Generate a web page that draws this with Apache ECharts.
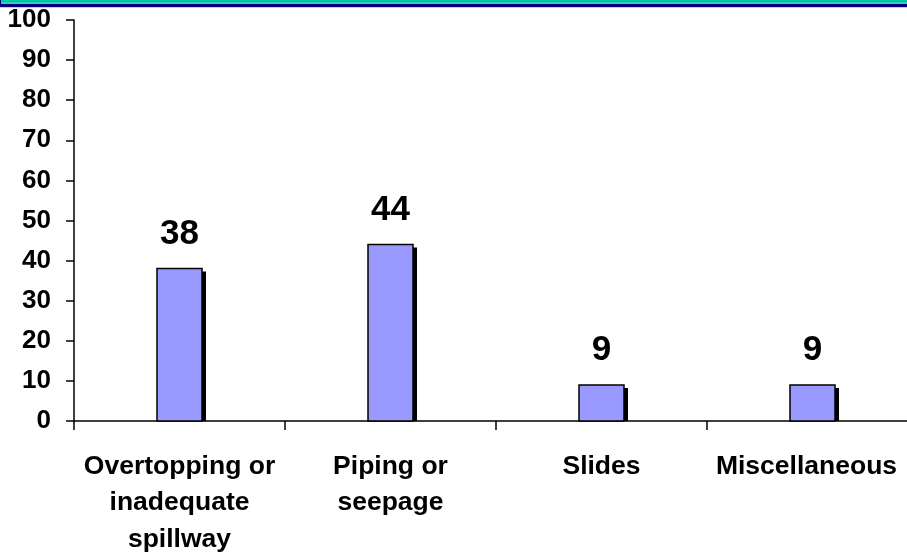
<!DOCTYPE html>
<html>
<head>
<meta charset="utf-8">
<script src="https://cdn.jsdelivr.net/npm/echarts@6/dist/echarts.min.js"></script>
<style>html,body{margin:0;padding:0;background:#fff}#c{width:907px;height:554px}</style>
</head>
<body>
<div id="c"></div>
<script>
const categories = ['Overtopping or\ninadequate\nspillway', 'Piping or\nseepage', 'Slides', 'Miscellaneous'];
const values = [38, 44, 9, 9];
const yTicks = [0, 10, 20, 30, 40, 50, 60, 70, 80, 90, 100];

const font = '"Liberation Sans", Arial, sans-serif';
const BAR_W = 45;
const chart = echarts.init(document.getElementById('c'), null, {renderer: 'canvas'});
chart.setOption({
  animation: false,
  backgroundColor: '#ffffff',
  graphic: [
    {type: 'rect', shape: {x: 0, y: 0, width: 907, height: 1}, style: {fill: '#00cc99'}, silent: true},
    {type: 'rect', shape: {x: 0, y: 1, width: 907, height: 1}, style: {fill: '#3399cc'}, silent: true},
    {type: 'rect', shape: {x: 0, y: 2, width: 907, height: 2}, style: {fill: '#33cccc'}, silent: true},
    {type: 'rect', shape: {x: 0, y: 4, width: 907, height: 3}, style: {fill: '#000080'}, silent: true},
    {type: 'rect', shape: {x: 0, y: 7, width: 907, height: 1}, style: {fill: '#d0d0d8'}, silent: true},
    {type: 'rect', shape: {x: 0, y: 0, width: 1, height: 7}, style: {fill: '#000080'}, silent: true}
  ],
  grid: {left: 74, width: 844, top: 20, bottom: 133, containLabel: false, outerBoundsMode: 'none'},
  xAxis: {
    type: 'category',
    data: categories,
    axisLine: {show: true, lineStyle: {color: '#000', width: 1.5}},
    axisTick: {show: true, inside: false, length: 9, alignWithLabel: false, lineStyle: {color: '#000', width: 1.5}},
    axisLabel: {
      interval: 0, margin: 27, color: '#000', fontFamily: font, fontWeight: 'bold',
      fontSize: 26.5, lineHeight: 36.5, align: 'center', hideOverlap: false,
      formatter: function (v, i) { return i === categories.length - 1 ? '{m|' + v + '}' : v; },
      rich: {m: {fontFamily: font, fontWeight: 'bold', fontSize: 26.5, lineHeight: 36.5, color: '#000', padding: [0, 12, 0, 0]}}
    },
    splitLine: {show: false}
  },
  yAxis: {
    type: 'value',
    min: yTicks[0], max: yTicks[yTicks.length - 1], interval: 10,
    axisLine: {show: true, lineStyle: {color: '#000', width: 1.5}},
    axisTick: {show: true, inside: false, length: 8, lineStyle: {color: '#000', width: 1.5}},
    axisLabel: {margin: 23, color: '#000', fontFamily: font, fontWeight: 'bold', fontSize: 26},
    splitLine: {show: false}
  },
  series: [{
    type: 'custom',
    data: values.map((v, i) => [i, v]),
    encode: {x: 0, y: 1},
    clip: false,
    renderItem: function (params, api) {
      const top = api.coord([api.value(0), api.value(1)]);
      const base = api.coord([api.value(0), 0]);
      const x = top[0] - BAR_W / 2;
      const h = base[1] - top[1];
      return {
        type: 'group',
        children: [
          {type: 'rect', shape: {x: x + 4, y: top[1] + 3, width: BAR_W, height: h - 3},
           style: {fill: '#000'}},
          {type: 'rect', shape: {x: x, y: top[1], width: BAR_W, height: h},
           style: {fill: '#9999ff', stroke: '#000', lineWidth: 1.5}},
          {type: 'text', x: top[0], y: top[1] - 17,
           style: {text: String(api.value(1)), fill: '#000', font: 'bold 35px ' + font,
                   align: 'center', verticalAlign: 'bottom'}}
        ]
      };
    }
  }]
});
</script>
</body>
</html>
